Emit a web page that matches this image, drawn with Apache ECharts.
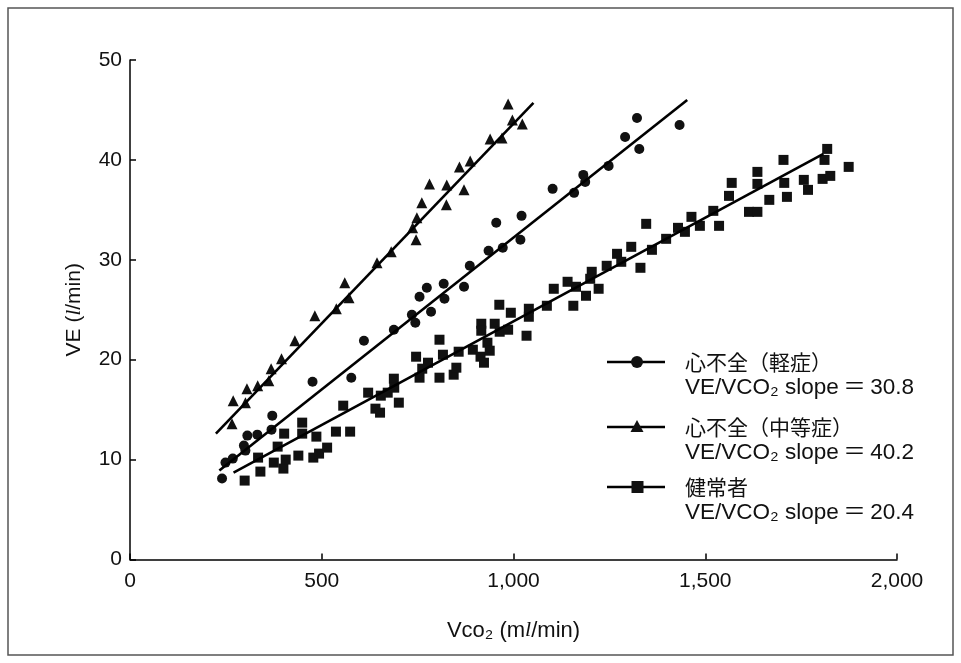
<!DOCTYPE html>
<html>
<head>
<meta charset="utf-8">
<script src="https://cdn.jsdelivr.net/npm/echarts@6/dist/echarts.min.js"></script>
<style>html,body{margin:0;padding:0;background:#fff}#c{width:961px;height:663px}</style>
</head>
<body>
<div id="c"></div>
<script>
// ---- data ----
const xTicks = [0, 500, 1000, 1500, 2000];
const yTicks = [0, 10, 20, 30, 40, 50];

const legendNames = ['心不全（軽症）', '心不全（中等症）', '健常者'];
const legendSlopes = ['VE/VCO₂ slope\u2009＝\u200930.8', 'VE/VCO₂ slope\u2009＝\u200940.2', 'VE/VCO₂ slope\u2009＝\u200920.4'];

// 心不全（軽症） circles
const mildX = [240,249,268,297,301,306,332,369,371,476,577,610,688,735,744,755,774,785,818,820,871,886,935,955,972,1018,1021,1102,1158,1182,1187,1248,1291,1322,1328,1433];
const mildY = [8.1,9.7,10.1,11.4,10.9,12.4,12.5,13.0,14.4,17.8,18.2,21.9,23.0,24.5,23.7,26.3,27.2,24.8,27.6,26.1,27.3,29.4,30.9,33.7,31.2,32.0,34.4,37.1,36.7,38.5,37.8,39.4,42.3,44.2,41.1,43.5];
const mildLineX = [233, 1453];
const mildLineY = [8.9, 46.0];

// 心不全（中等症） triangles
const modX = [266,269,301,305,333,362,368,395,430,482,538,560,571,644,681,737,746,748,761,781,825,826,859,871,887,939,970,986,997,1023];
const modY = [13.6,15.9,15.7,17.1,17.4,17.9,19.1,20.1,21.9,24.4,25.1,27.7,26.2,29.7,30.8,33.2,32.0,34.2,35.7,37.6,35.5,37.5,39.3,37.0,39.9,42.1,42.2,45.6,44.0,43.6];
const modLineX = [224, 1052];
const modLineY = [12.6, 45.7];

// 健常者 squares
const normX = [299,340,334,375,400,406,385,402,439,449,449,478,486,493,514,537,574,556,621,640,652,654,672,688,689,701,746,755,762,777,807,816,807,844,851,857,894,916,916,914,923,932,938,951,964,986,963,993,1034,1040,1040,1087,1105,1141,1156,1163,1189,1204,1200,1222,1243,1270,1281,1307,1331,1346,1361,1398,1429,1447,1464,1486,1521,1536,1562,1569,1614,1636,1636,1636,1667,1704,1706,1713,1757,1768,1806,1826,1811,1818,1874];
const normY = [7.9,8.8,10.2,9.7,9.1,10.0,11.3,12.6,10.4,13.7,12.6,10.2,12.3,10.6,11.2,12.8,12.8,15.4,16.7,15.1,14.7,16.4,16.7,18.1,17.2,15.7,20.3,18.2,19.1,19.7,22.0,20.5,18.2,18.5,19.2,20.8,21.0,23.6,22.9,20.3,19.7,21.7,20.9,23.6,22.8,23.0,25.5,24.7,22.4,25.1,24.3,25.4,27.1,27.8,25.4,27.3,26.4,28.8,28.1,27.1,29.4,30.6,29.8,31.3,29.2,33.6,31.0,32.1,33.2,32.8,34.3,33.4,34.9,33.4,36.4,37.7,34.8,34.8,37.6,38.8,36.0,40.0,37.7,36.3,38.0,37.0,38.1,38.4,40.0,41.1,39.3];
const normLineX = [270, 1808];
const normLineY = [8.7, 40.6];

// ---- build ----
const zip = (xs, ys) => xs.map((x, i) => [x, ys[i]]);
const INK = '#111';
const latin = '"Liberation Sans", Arial, "Noto Sans CJK JP", sans-serif';
const cjk = '"Noto Sans CJK JP", "Liberation Sans", sans-serif';

const chart = echarts.init(document.getElementById('c'), null, {renderer: 'canvas'});

function scatter(name, data, symbol, size) {
  return {type: 'scatter', name, data, symbol, symbolSize: size,
    itemStyle: {color: INK, opacity: 1}, z: 3, silent: true};
}
function fit(data) {
  return {type: 'line', data, showSymbol: false, symbol: 'none',
    lineStyle: {color: '#000', width: 2.6}, z: 4, silent: true, animation: false};
}

// legend drawn as graphic
const legendRows = [362, 427, 487];
const legendSymbols = ['circle', 'triangle', 'rect'];
const legendGraphics = [];
legendRows.forEach((y, i) => {
  legendGraphics.push({type: 'line', shape: {x1: 607, y1: y, x2: 665, y2: y}, style: {stroke: '#000', lineWidth: 2.6}});
  const s = legendSymbols[i];
  if (s === 'circle') legendGraphics.push({type: 'circle', shape: {cx: 637, cy: y, r: 6}, style: {fill: INK}});
  if (s === 'triangle') legendGraphics.push({type: 'polygon', shape: {points: [[637, y - 7], [630.5, y + 5], [643.5, y + 5]]}, style: {fill: INK}});
  if (s === 'rect') legendGraphics.push({type: 'rect', shape: {x: 631.5, y: y - 6, width: 12, height: 12}, style: {fill: INK}});
  legendGraphics.push({type: 'text', x: 685, y: y, style: {text: legendNames[i], font: '21px ' + cjk, fill: '#111', textVerticalAlign: 'middle'}});
  legendGraphics.push({type: 'text', x: 685, y: y + 26, style: {text: legendSlopes[i], font: '22.5px ' + latin, fill: '#111', textVerticalAlign: 'middle'}});
});

const option = {
  animation: false,
  backgroundColor: '#fff',
  grid: {left: 130, right: 64, top: 60, bottom: 103.5, containLabel: false},
  xAxis: {
    type: 'value', min: 0, max: 2000, interval: 500,
    name: 'Vco₂ (m{i|l}/min)', nameLocation: 'middle', nameGap: 60,
    nameTextStyle: {fontSize: 22, fontFamily: latin, color: '#111', rich: {i: {fontSize: 22, fontStyle: 'italic', fontFamily: '"Liberation Serif", serif', color: '#111'}}},
    axisLine: {lineStyle: {color: '#000', width: 1.5}},
    axisTick: {inside: true, length: 6, lineStyle: {color: '#000', width: 1.5}},
    axisLabel: {fontSize: 21, fontFamily: latin, color: '#111', margin: 11,
      formatter: v => xTicks.includes(v) ? v.toLocaleString('en-US') : ''},
    splitLine: {show: false}
  },
  yAxis: {
    type: 'value', min: 0, max: 50, interval: 10,
    name: 'VE ({i|l}/min)', nameLocation: 'middle', nameGap: 45,
    nameTextStyle: {fontSize: 21, fontFamily: latin, color: '#111', rich: {i: {fontSize: 21, fontStyle: 'italic', fontFamily: '"Liberation Serif", serif', color: '#111'}}},
    axisLine: {show: true, lineStyle: {color: '#000', width: 1.5}},
    axisTick: {show: true, inside: true, length: 6, lineStyle: {color: '#000', width: 1.5}},
    axisLabel: {fontSize: 21, fontFamily: latin, color: '#111', margin: 8,
      formatter: v => yTicks.includes(v) ? String(v) : ''},
    splitLine: {show: false}
  },
  series: [
    scatter(legendNames[0], zip(mildX, mildY), 'circle', 10),
    scatter(legendNames[1], zip(modX, modY), 'triangle', 11),
    scatter(legendNames[2], zip(normX, normY), 'rect', 10),
    fit(zip(mildLineX, mildLineY)),
    fit(zip(modLineX, modLineY)),
    fit(zip(normLineX, normLineY))
  ],
  graphic: [
    {type: 'rect', shape: {x: 8, y: 8, width: 945, height: 647}, style: {fill: 'none', stroke: '#555', lineWidth: 1.5}, z: 0},
    ...legendGraphics
  ]
};
chart.setOption(option);
</script>
</body>
</html>
